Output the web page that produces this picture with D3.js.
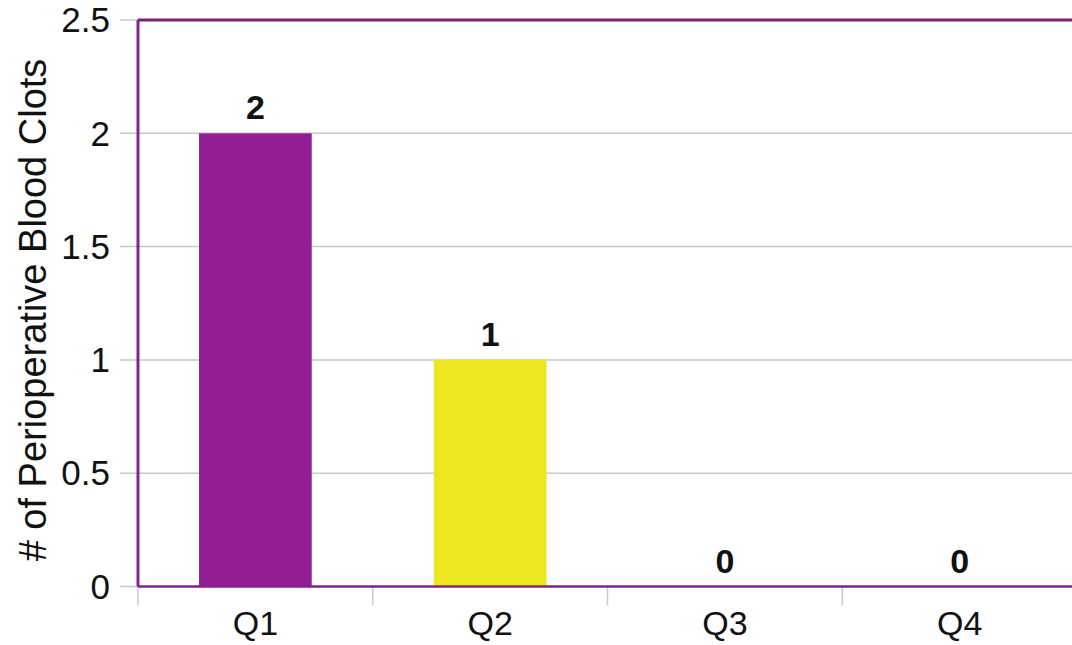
<!DOCTYPE html>
<html><head><meta charset="utf-8">
<script src="https://cdn.jsdelivr.net/npm/d3@7"></script>
<style>body{margin:0;background:#fff}svg{display:block}text{font-family:"Liberation Sans",Arial,sans-serif}</style>
</head><body><svg id="c" width="1072" height="645"></svg>
<script>
const categories = ["Q1","Q2","Q3","Q4"];
const values = [2,1,0,0];
const barColors = ["#921e94","#ebe620","#921e94","#ebe620"];
const yTicks = [0,0.5,1,1.5,2,2.5];
const yTickLabels = ["0","0.5","1","1.5","2","2.5"];
const yTitle = "# of Perioperative Blood Clots";

const svg = d3.select("#c");
const L = 138, R = 1077, T = 20, B = 586.5;
const x = d3.scaleBand().domain(categories).range([L, R]).paddingInner(0.52).paddingOuter(0.26);
const xb = d3.scaleBand().domain(categories).range([L, R]);
const y = d3.scaleLinear().domain([0,2.5]).range([B, T]);

// gridlines with left tick extensions
svg.append("g").selectAll("line").data(yTicks).join("line")
  .attr("x1", 120).attr("x2", R).attr("y1", d=>y(d)).attr("y2", d=>y(d))
  .attr("stroke", "#c5c9cf").attr("stroke-width", 1.5);

// y tick labels
svg.append("g").selectAll("text").data(yTicks).join("text")
  .attr("x", 110).attr("y", d=>y(d)).attr("dy", "0.35em")
  .attr("text-anchor", "end").attr("font-size", 35).attr("fill", "#111")
  .text((d,i)=>yTickLabels[i]);

// x ticks (band separators)
const sep = categories.map(c=>xb(c)).concat([R]);
svg.append("g").selectAll("line").data(sep).join("line")
  .attr("x1", d=>d).attr("x2", d=>d).attr("y1", B).attr("y2", B+19)
  .attr("stroke", "#c5cad3").attr("stroke-width", 1.5);

// bars
svg.append("g").selectAll("rect").data(values).join("rect")
  .attr("x", (d,i)=>x(categories[i])).attr("width", x.bandwidth())
  .attr("y", d=>y(d)).attr("height", d=>B - y(d))
  .attr("fill", (d,i)=>barColors[i]);

// frame lines
svg.append("line").attr("x1", L).attr("x2", R).attr("y1", T).attr("y2", T).attr("stroke", "#74207c").attr("stroke-width", 3);
svg.append("line").attr("x1", L).attr("x2", L).attr("y1", T).attr("y2", B).attr("stroke", "#86218d").attr("stroke-width", 3);
svg.append("line").attr("x1", L).attr("x2", R).attr("y1", B).attr("y2", B).attr("stroke", "#8a2090").attr("stroke-width", 2.5);

// value labels
svg.append("g").selectAll("text").data(values).join("text")
  .attr("x", (d,i)=>x(categories[i]) + x.bandwidth()/2)
  .attr("y", d=>y(d) - 14)
  .attr("text-anchor", "middle").attr("font-size", 34).attr("font-weight", "bold").attr("fill", "#111")
  .text(d=>d);

// x labels
svg.append("g").selectAll("text").data(categories).join("text")
  .attr("x", d=>xb(d) + xb.bandwidth()/2).attr("y", 635)
  .attr("text-anchor", "middle").attr("font-size", 34).attr("fill", "#111")
  .text(d=>d);

// y title
svg.append("text").attr("transform", "translate(46,310) rotate(-90)")
  .attr("text-anchor", "middle").attr("font-size", 38).attr("fill", "#111")
  .text(yTitle);
</script></body></html>
